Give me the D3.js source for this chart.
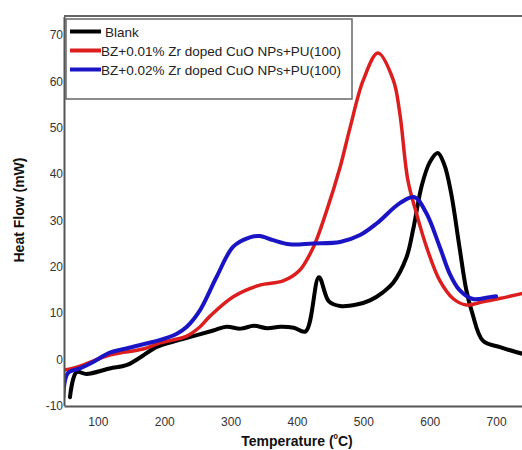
<!DOCTYPE html>
<html>
<head>
<meta charset="utf-8">
<script src="https://cdn.jsdelivr.net/npm/d3@7"></script>
<style>
  body { margin: 0; background: #fff; }
  text { font-family: "Liberation Sans", Arial, sans-serif; }
  .tick text { font-family: "Liberation Sans Narrow", "Arial Narrow", "Liberation Sans", sans-serif; font-size: 12px; fill: #333; }
</style>
</head>
<body>
<div id="chart-area"></div>
<script>
// data (temperature in C, heat flow in mW)
var blankT = [58, 68, 83, 118, 143, 163, 188, 219, 249, 274, 294, 315, 335, 355, 375, 395, 413, 433, 448, 465, 490, 510, 530, 545, 565, 575, 588, 600, 612, 622, 632, 645, 655, 664, 680, 706, 731, 745];
var blankV = [-8.2, -2.8, -3.2, -2, -1.3, 0.3, 2.6, 4, 5.2, 6.2, 7, 6.6, 7.2, 6.7, 7, 6.8, 6, 17.7, 12.5, 11.5, 11.8, 12.7, 14.5, 16.5, 22, 28, 37.5, 42.5, 44.5, 42, 36, 24, 15, 10, 4, 2.6, 1.5, 1];

var redT = [48, 73, 118, 168, 193, 234, 254, 269, 304, 344, 379, 404, 425, 445, 465, 480, 500, 522, 545, 555, 567, 580, 595, 615, 635, 655, 680, 705, 745];
var redV = [-2.4, -1.5, 0.9, 2.2, 3.5, 5, 7, 9.3, 13.5, 16, 16.9, 19.2, 24.3, 32.2, 41.5, 50, 60.3, 66.1, 60.3, 53, 38.7, 31.5, 24.3, 17, 13.1, 11.7, 12.4, 13.1, 14.4];

var blueT = [48, 55, 73, 93, 118, 143, 173, 193, 219, 234, 254, 279, 304, 329, 344, 364, 389, 424, 465, 495, 520, 555, 577, 595, 615, 630, 645, 665, 690, 700];
var blueV = [-8.2, -3, -2, -0.6, 1.4, 2.3, 3.4, 4.1, 5.5, 7, 10.6, 17.8, 24.3, 26.3, 26.6, 25.7, 24.8, 25, 25.3, 26.8, 29.3, 33.7, 35, 31.5, 24.3, 18.5, 14.9, 13, 13.4, 13.6];

var seriesNames = ["Blank", "BZ+0.01% Zr doped CuO NPs+PU(100)", "BZ+0.02% Zr doped CuO NPs+PU(100)"];
var seriesColors = ["#000000", "#dc1e1e", "#1a14c4"];
var xTicks = [100, 200, 300, 400, 500, 600, 700];
var yTicks = [-10, 0, 10, 20, 30, 40, 50, 60, 70];

var W = 522, H = 450;
var plotLeft = 64, plotTop = 16, plotBottom = 406;

var svg = d3.select("#chart-area")
  .append("svg")
  .attr("width", W)
  .attr("height", H);

var x = d3.scaleLinear().domain([49, 739]).range([plotLeft, W]);
var y = d3.scaleLinear().domain([-10, 74]).range([405.5, 16.5]);

function zipUp(ts, vs) {
  return ts.map(function (t, i) { return { t: t, v: vs[i] }; });
}
var series = [zipUp(blankT, blankV), zipUp(redT, redV), zipUp(blueT, blueV)];

// clip to plot area
svg.append("clipPath").attr("id", "plot")
  .append("rect").attr("x", plotLeft).attr("y", plotTop)
  .attr("width", W - plotLeft).attr("height", plotBottom - plotTop);

var line = d3.line()
  .x(function (d) { return x(d.t); })
  .y(function (d) { return y(d.v); })
  .curve(d3.curveCatmullRom.alpha(0.5));

// draw blank, red, then blue on top
[0, 1, 2].forEach(function (i) {
  svg.append("path")
    .datum(series[i])
    .attr("clip-path", "url(#plot)")
    .attr("fill", "none")
    .attr("stroke", seriesColors[i])
    .attr("stroke-width", i == 1 ? 3.5 : 4)
    .attr("stroke-linejoin", "round")
    .attr("stroke-linecap", "round")
    .attr("d", line);
});

// top frame line
svg.append("line").attr("x1", plotLeft).attr("x2", W).attr("y1", plotTop).attr("y2", plotTop)
  .attr("stroke", "#666").attr("stroke-width", 2);

// axes
var xAxis = svg.append("g")
  .attr("transform", "translate(0," + plotBottom + ")")
  .call(d3.axisBottom(x).tickValues(xTicks).tickSize(0).tickPadding(11));
xAxis.select(".domain").attr("stroke", "#555").attr("stroke-width", 2);

var yAxis = svg.append("g")
  .attr("transform", "translate(" + plotLeft + ",0)")
  .call(d3.axisLeft(y).tickValues(yTicks).tickSize(0).tickPadding(1)
    .tickFormat(function (d) { return String(d); }));
yAxis.select(".domain").attr("stroke", "#555").attr("stroke-width", 2);

// axis titles
svg.append("text")
  .attr("transform", "translate(24,210) rotate(-90)")
  .attr("text-anchor", "middle")
  .style("font-size", "14px")
  .style("font-weight", "bold")
  .attr("fill", "#111")
  .text("Heat Flow (mW)");

var xt = svg.append("text")
  .attr("x", 297)
  .attr("y", 446)
  .attr("text-anchor", "middle")
  .style("font-size", "14px")
  .style("font-weight", "bold")
  .attr("fill", "#111");
xt.append("tspan").text("Temperature (");
xt.append("tspan").attr("dy", -7).style("font-size", "8px").text("0");
xt.append("tspan").attr("dy", 7).text("C)");

// legend
var legend = svg.append("g");
legend.append("rect")
  .attr("x", 66).attr("y", 19).attr("width", 286).attr("height", 80)
  .attr("fill", "#fff").attr("stroke", "#666").attr("stroke-width", 1.5);

seriesNames.forEach(function (name, i) {
  var row = legend.append("g")
    .attr("transform", "translate(0," + (31.5 + i * 19) + ")");
  row.append("line")
    .attr("x1", 70).attr("x2", 101).attr("y1", 0).attr("y2", 0)
    .attr("stroke", seriesColors[i]).attr("stroke-width", 4);
  row.append("text")
    .attr("x", i == 0 ? 105 : 101)
    .attr("y", 5)
    .style("font-size", "13.5px")
    .attr("fill", "#222")
    .text(name);
});
</script>
</body>
</html>
